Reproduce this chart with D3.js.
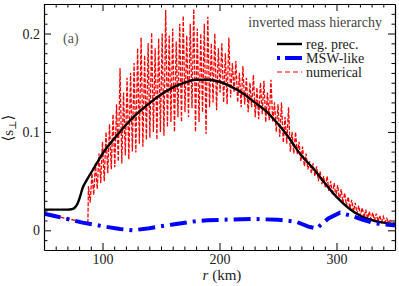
<!DOCTYPE html>
<html>
<head>
<meta charset="utf-8">
<script src="https://cdn.jsdelivr.net/npm/d3@7"></script>
<style>
  html, body { margin: 0; padding: 0; background: #fff; }
  svg { display: block; }
</style>
</head>
<body>
<div id="chart"></div>
<script>
// reg. prec. curve  [r (km), <s_perp>]
const regPrec = [
  [50, 0.021], [60, 0.021], [70, 0.021], [74, 0.0215], [77, 0.024], [79, 0.028], [81, 0.035],
  [83, 0.043], [86, 0.05], [90, 0.058], [95, 0.068], [100, 0.078], [110, 0.093], [120, 0.107],
  [130, 0.119], [140, 0.129], [150, 0.138], [160, 0.145], [170, 0.15], [180, 0.153], [190, 0.153],
  [200, 0.151], [210, 0.146], [220, 0.139], [230, 0.13], [240, 0.121], [250, 0.108], [260, 0.093],
  [265, 0.084], [270, 0.076], [280, 0.063], [290, 0.048], [300, 0.034], [310, 0.023], [320, 0.015],
  [330, 0.0105], [340, 0.0078], [350, 0.0064]
];

// MSW-like curve
const mswLike = [
  [50, 0.017], [60, 0.0143], [70, 0.0115], [83, 0.0078], [100, 0.0042], [115, 0.0013], [126, 0.0],
  [140, 0.0022], [160, 0.006], [181, 0.0095], [190, 0.0102], [210, 0.011], [230, 0.0115],
  [250, 0.0107], [260, 0.0095], [266, 0.0085], [276, 0.0038], [283, 0.0018], [293, 0.012],
  [303, 0.018], [313, 0.0146], [322, 0.011], [333, 0.007], [347, 0.0054], [350, 0.005]
];

// numerical: smooth start, then oscillation maxima and minima
const numStart = [[50, 0.017], [60, 0.0145], [70, 0.0118], [80, 0.0094], [87.5, 0.0075]];
const numHi = [
  [88, 0.045], [91, 0.058], [94, 0.068], [97, 0.078], [100, 0.09], [103, 0.1], [106, 0.108],
  [109, 0.118], [112, 0.128], [115, 0.165], [118, 0.14], [121, 0.155], [124, 0.16], [127, 0.17],
  [130, 0.185], [133, 0.196], [136, 0.178], [139, 0.19], [142, 0.201], [145, 0.185], [148, 0.195],
  [151, 0.2], [154, 0.224], [157, 0.198], [160, 0.205], [163, 0.192], [166, 0.21], [169, 0.218],
  [172, 0.198], [175, 0.21], [178, 0.225], [181, 0.205], [184, 0.2], [187, 0.21], [190, 0.217],
  [193, 0.19], [196, 0.2], [199, 0.185], [202, 0.19], [205, 0.18], [208, 0.196], [211, 0.17],
  [214, 0.172], [217, 0.16], [220, 0.167], [223, 0.155], [226, 0.15], [229, 0.158], [232, 0.145],
  [235, 0.15], [238, 0.152], [241, 0.14], [244, 0.153], [247, 0.13], [250, 0.128], [253, 0.13],
  [256, 0.115], [259, 0.125], [262, 0.1], [265, 0.1], [268, 0.09], [271, 0.085], [274, 0.078],
  [277, 0.07], [280, 0.068], [283, 0.065], [286, 0.06], [289, 0.055], [292, 0.055], [295, 0.05],
  [298, 0.048], [301, 0.046], [304, 0.042], [307, 0.038], [310, 0.034], [313, 0.031], [316, 0.028],
  [319, 0.025], [322, 0.023], [325, 0.021], [328, 0.019], [331, 0.018], [334, 0.017], [337, 0.015],
  [340, 0.014], [343, 0.012], [346, 0.01]
];
const numLo = [
  [89.5, 0.028], [92.5, 0.036], [95.5, 0.042], [98.5, 0.048], [101.5, 0.05], [104.5, 0.058],
  [107.5, 0.062], [110.5, 0.064], [113.5, 0.07], [116.5, 0.068], [119.5, 0.076], [122.5, 0.072],
  [125.5, 0.08], [128.5, 0.079], [131.5, 0.088], [134.5, 0.085], [137.5, 0.092], [140.5, 0.094],
  [143.5, 0.1], [146.5, 0.092], [149.5, 0.1], [152.5, 0.096], [155.5, 0.105], [158.5, 0.11],
  [161.5, 0.1], [164.5, 0.115], [167.5, 0.11], [170.5, 0.12], [173.5, 0.115], [176.5, 0.124],
  [179.5, 0.1], [182.5, 0.11], [185.5, 0.12], [188.5, 0.098], [191.5, 0.125], [194.5, 0.13],
  [197.5, 0.122], [200.5, 0.14], [203.5, 0.13], [206.5, 0.128], [209.5, 0.135], [212.5, 0.14],
  [215.5, 0.13], [218.5, 0.125], [221.5, 0.128], [224.5, 0.12], [227.5, 0.125], [230.5, 0.115],
  [233.5, 0.113], [236.5, 0.118], [239.5, 0.11], [242.5, 0.112], [245.5, 0.11], [248.5, 0.1],
  [251.5, 0.095], [254.5, 0.089], [257.5, 0.088], [260.5, 0.08], [263.5, 0.078], [266.5, 0.077],
  [269.5, 0.07], [272.5, 0.065], [275.5, 0.062], [278.5, 0.058], [281.5, 0.055], [284.5, 0.05],
  [287.5, 0.047], [290.5, 0.043], [293.5, 0.04], [296.5, 0.036], [299.5, 0.034], [302.5, 0.03],
  [305.5, 0.028], [308.5, 0.025], [311.5, 0.022], [314.5, 0.019], [317.5, 0.017], [320.5, 0.015],
  [323.5, 0.013], [326.5, 0.012], [329.5, 0.011], [332.5, 0.01], [335.5, 0.009], [338.5, 0.0085],
  [341.5, 0.008], [344.5, 0.0075]
];
const numEnd = [[350, 0.007]];

const xMajor = [100, 200, 300];
const yMajor = [0, 0.1, 0.2];
const yMajorLabels = ['0', '0.1', '0.2'];
const legendItems = ['reg. prec.', 'MSW-like', 'numerical'];

const W = 399, H = 286;
const m = { left: 44, right: 4, top: 4, bottom: 36 };
const serif = 'Liberation Serif, DejaVu Serif, serif';

const x = d3.scaleLinear().domain([50, 350]).range([m.left, W - m.right]);
const y = d3.scaleLinear().domain([-0.02, 0.23]).range([H - m.bottom, m.top]);

const svg = d3.select('#chart').append('svg')
  .attr('width', W).attr('height', H)
  .style('font-family', serif);

svg.append('defs').append('clipPath').attr('id', 'plot-clip')
  .append('rect')
  .attr('x', m.left).attr('y', m.top)
  .attr('width', W - m.left - m.right).attr('height', H - m.top - m.bottom);

const line = d3.line().x(d => x(d[0])).y(d => y(d[1]));
const plot = svg.append('g').attr('clip-path', 'url(#plot-clip)');

const numerical = numStart.concat(d3.sort(numHi.concat(numLo), d => d[0]), numEnd);

plot.append('path').datum(numerical)
  .attr('d', line)
  .attr('fill', 'none')
  .attr('stroke', '#ff0000')
  .attr('stroke-width', 1.3)
  .attr('stroke-dasharray', '4,1.6');

plot.append('path').datum(regPrec)
  .attr('d', d3.line().x(d => x(d[0])).y(d => y(d[1])).curve(d3.curveMonotoneX))
  .attr('fill', 'none')
  .attr('stroke', '#000')
  .attr('stroke-width', 2.4);

plot.append('path').datum(mswLike)
  .attr('d', line)
  .attr('fill', 'none')
  .attr('stroke', '#0000ff')
  .attr('stroke-width', 4)
  .attr('stroke-dasharray', '17,6,3,6');

// axes: ticks inside on all four sides
const xMinor = d3.range(60, 350, 10).filter(v => !xMajor.includes(v));
const yMinor = d3.range(-0.01, 0.2301, 0.01).map(v => +v.toFixed(2)).filter(v => !yMajor.includes(v));

const bottomAxis = d3.axisBottom(x).tickValues(xMajor).tickSizeInner(-7).tickSizeOuter(0).tickPadding(4);
const topAxis = d3.axisTop(x).tickValues(xMajor).tickSizeInner(-7).tickSizeOuter(0).tickFormat('');
const leftAxis = d3.axisLeft(y).tickValues(yMajor).tickSizeInner(-7).tickSizeOuter(0).tickPadding(4)
  .tickFormat((d, i) => yMajorLabels[i]);
const rightAxis = d3.axisRight(y).tickValues(yMajor).tickSizeInner(-7).tickSizeOuter(0).tickFormat('');

function styleAxis(g) {
  g.attr('font-family', null).attr('font-size', null);
  g.select('.domain').attr('stroke', '#000').attr('stroke-width', 1.2);
  g.selectAll('.tick line').attr('stroke', '#000').attr('stroke-width', 1);
  g.selectAll('.tick text').style('font-family', serif)
    .attr('font-size', 14).attr('fill', '#222');
}

svg.append('g').attr('transform', `translate(0,${H - m.bottom})`).call(bottomAxis).call(styleAxis);
svg.append('g').attr('transform', `translate(0,${m.top})`).call(topAxis).call(styleAxis);
svg.append('g').attr('transform', `translate(${m.left},0)`).call(leftAxis).call(styleAxis);
svg.append('g').attr('transform', `translate(${W - m.right},0)`).call(rightAxis).call(styleAxis);

// minor ticks
svg.append('g').attr('transform', `translate(0,${H - m.bottom})`)
  .call(d3.axisBottom(x).tickValues(xMinor).tickSizeInner(-3.5).tickSizeOuter(0).tickFormat(''))
  .call(g => g.select('.domain').remove());
svg.append('g').attr('transform', `translate(0,${m.top})`)
  .call(d3.axisTop(x).tickValues(xMinor).tickSizeInner(-3.5).tickSizeOuter(0).tickFormat(''))
  .call(g => g.select('.domain').remove());
svg.append('g').attr('transform', `translate(${m.left},0)`)
  .call(d3.axisLeft(y).tickValues(yMinor).tickSizeInner(-3.5).tickSizeOuter(0).tickFormat(''))
  .call(g => g.select('.domain').remove());
svg.append('g').attr('transform', `translate(${W - m.right},0)`)
  .call(d3.axisRight(y).tickValues(yMinor).tickSizeInner(-3.5).tickSizeOuter(0).tickFormat(''))
  .call(g => g.select('.domain').remove());

// axis labels
const xl = svg.append('text')
  .attr('x', 222).attr('y', 280)
  .attr('text-anchor', 'middle')
  .style('font-family', serif)
  .attr('font-size', 15).attr('fill', '#222');
xl.append('tspan').attr('font-style', 'italic').text('r');
xl.append('tspan').text(' (km)');

const yl = svg.append('text')
  .attr('transform', 'translate(13,128) rotate(-90)')
  .attr('text-anchor', 'middle')
  .style('font-family', serif)
  .attr('font-size', 15).attr('fill', '#222');
yl.append('tspan').text('⟨s');
yl.append('tspan').attr('font-size', 10).attr('dy', 3).text('⊥');
yl.append('tspan').attr('dy', -3).text('⟩');

svg.append('text')
  .attr('x', 63).attr('y', 43)
  .style('font-family', serif)
  .attr('font-size', 14).attr('fill', '#555')
  .text('(a)');

svg.append('text')
  .attr('x', 382).attr('y', 27)
  .attr('text-anchor', 'end')
  .style('font-family', serif)
  .attr('font-size', 14).attr('fill', '#444')
  .text('inverted mass hierarchy');

// legend
const legendStyles = [
  { stroke: '#000', width: 2.4, dash: null },
  { stroke: '#0000ff', width: 4, dash: '3,5,19' },
  { stroke: '#ff0000', width: 1.2, dash: '5,3' }
];
const lg = svg.append('g').selectAll('g').data(legendItems).join('g')
  .attr('transform', (d, i) => `translate(277,${44 + i * 14})`);
lg.append('line')
  .attr('x1', 0).attr('x2', 25).attr('y1', 0).attr('y2', 0)
  .attr('stroke', (d, i) => legendStyles[i].stroke)
  .attr('stroke-width', (d, i) => legendStyles[i].width)
  .attr('stroke-dasharray', (d, i) => legendStyles[i].dash);
lg.append('text')
  .attr('x', 29).attr('y', 4.5)
  .style('font-family', serif)
  .attr('font-size', 14).attr('fill', '#222')
  .text(d => d);
</script>
</body>
</html>
